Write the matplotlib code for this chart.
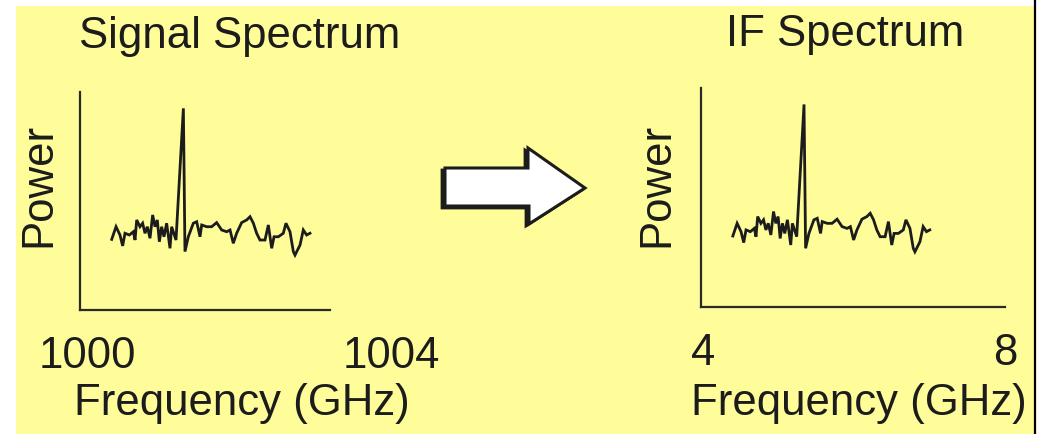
import matplotlib
matplotlib.use("Agg")
import matplotlib.pyplot as plt
from matplotlib.patches import Rectangle, Polygon

# ---------------- data ----------------
rf_freq_ghz = [1000.325, 1000.382, 1000.434, 1000.469, 1000.500, 1000.557, 1000.610,
               1000.632, 1000.654, 1000.697, 1000.732, 1000.763, 1000.794, 1000.829,
               1000.864, 1000.895, 1000.925, 1000.952, 1000.982, 1001.013, 1001.048,
               1001.092, 1001.114, 1001.171, 1001.268, 1001.289, 1001.333, 1001.399,
               1001.443, 1001.487, 1001.509, 1001.575, 1001.640, 1001.706, 1001.772,
               1001.838, 1001.882, 1001.925, 1001.969, 1002.035, 1002.101, 1002.145,
               1002.189, 1002.232, 1002.276, 1002.342, 1002.386, 1002.430, 1002.461,
               1002.518, 1002.583, 1002.618, 1002.671, 1002.715, 1002.737, 1002.803,
               1002.846, 1002.890, 1002.934]
power = [0.324, 0.382, 0.344, 0.294, 0.352, 0.344, 0.359, 0.321, 0.413, 0.382,
         0.398, 0.352, 0.382, 0.329, 0.436, 0.382, 0.413, 0.313, 0.382, 0.336,
         0.398, 0.283, 0.382, 0.321, 0.925, 0.268, 0.336, 0.398, 0.405, 0.336,
         0.390, 0.382, 0.382, 0.401, 0.367, 0.359, 0.367, 0.306, 0.352, 0.401,
         0.413, 0.428, 0.398, 0.352, 0.321, 0.321, 0.390, 0.283, 0.336, 0.336,
         0.352, 0.398, 0.359, 0.268, 0.252, 0.298, 0.367, 0.344, 0.352]
lo_freq_ghz = 995.93
if_freq_ghz = [f - lo_freq_ghz for f in rf_freq_ghz]

rf_ticks = [1000, 1004]
rf_tick_labels = ["1000", "1004"]
if_ticks = [4, 8]
if_tick_labels = ["4", "8"]

title_left = "Signal Spectrum"
title_right = "IF Spectrum"
xlabel_text = "Frequency (GHz)"
ylabel_text = "Power"

# ---------------- figure ----------------
W, H = 1037, 434
plt.rcParams['font.family'] = ['Liberation Sans', 'DejaVu Sans']
FS = 31.5
YELLOW = '#FFFD99'
INK = '#1c1c1c'

fig = plt.figure(figsize=(W / 100, H / 100), dpi=100, facecolor='white')

# background / decoration axes in pixel coordinates
bg = fig.add_axes([0, 0, 1, 1], zorder=0)
bg.set_xlim(0, W)
bg.set_ylim(H, 0)
bg.axis('off')
bg.add_patch(Rectangle((16, 6), 1018, H, facecolor=YELLOW, edgecolor='none'))
bg.plot([1035, 1035], [0, H], color='black', lw=1.6, solid_capstyle='butt')

# arrow
arrow_pts = [(445, 168), (528, 168), (528, 148), (585, 188), (529, 224), (529, 206), (445, 206)]
shadow = Polygon([(x - 3, y + 2) for x, y in arrow_pts], closed=True,
                 facecolor=INK, edgecolor=INK, lw=2)
bg.add_patch(shadow)
bg.add_patch(Polygon(arrow_pts, closed=True, facecolor='white', edgecolor=INK, lw=2.2,
                     joinstyle='miter'))


def px_axes(left, top, right, bottom):
    return fig.add_axes([left / W, 1 - bottom / H, (right - left) / W, (bottom - top) / H],
                        zorder=1, facecolor='none')


def style(ax, xlim, spine_end, ticks, labels):
    ax.set_xlim(*xlim)
    ax.set_ylim(0, 1)
    for s in ('top', 'right'):
        ax.spines[s].set_visible(False)
    for s in ('left', 'bottom'):
        ax.spines[s].set_linewidth(1.6)
        ax.spines[s].set_color('#2a2a2a')
    ax.spines['bottom'].set_bounds(xlim[0], spine_end)
    ax.set_xticks(ticks)
    ax.set_xticklabels(labels)
    ax.set_yticks([])
    ax.tick_params(axis='x', length=0, pad=19, labelsize=FS, labelcolor=INK)


# left (RF) panel: 1000 GHz at x=87 px, 76 px/GHz
s1 = 76.0
ax1 = px_axes(80, 92, 445, 310)
style(ax1, (1000 - 7 / s1, 1000 + (445 - 87) / s1), 1000 + (330 - 87) / s1,
      rf_ticks, rf_tick_labels)
ax1.plot(rf_freq_ghz, power, color=INK, lw=2.0, solid_joinstyle='miter')

# right (IF) panel: 4 GHz at x=703 px, 75.5 px/GHz
s2 = 75.5
ax2 = px_axes(701, 88, 1020, 307)
style(ax2, (4 - 2 / s2, 4 + (1020 - 703) / s2), 4 + (1005 - 703) / s2,
      if_ticks, if_tick_labels)
ax2.plot(if_freq_ghz, power, color=INK, lw=2.0, solid_joinstyle='miter')


def ftext(x, y, s, **kw):
    fig.text(x / W, 1 - y / H, s, fontsize=FS, color=INK, **kw)


ftext(240, 48, title_left, ha='center', va='baseline')
ftext(845, 46, title_right, ha='center', va='baseline')
ftext(242, 415, xlabel_text, ha='center', va='baseline')
ftext(859, 415, xlabel_text, ha='center', va='baseline')
ftext(39, 185, ylabel_text, ha='center', va='center', rotation=90)
ftext(657, 185, ylabel_text, ha='center', va='center', rotation=90)

fig.savefig('out.png', dpi=100, facecolor='white')
